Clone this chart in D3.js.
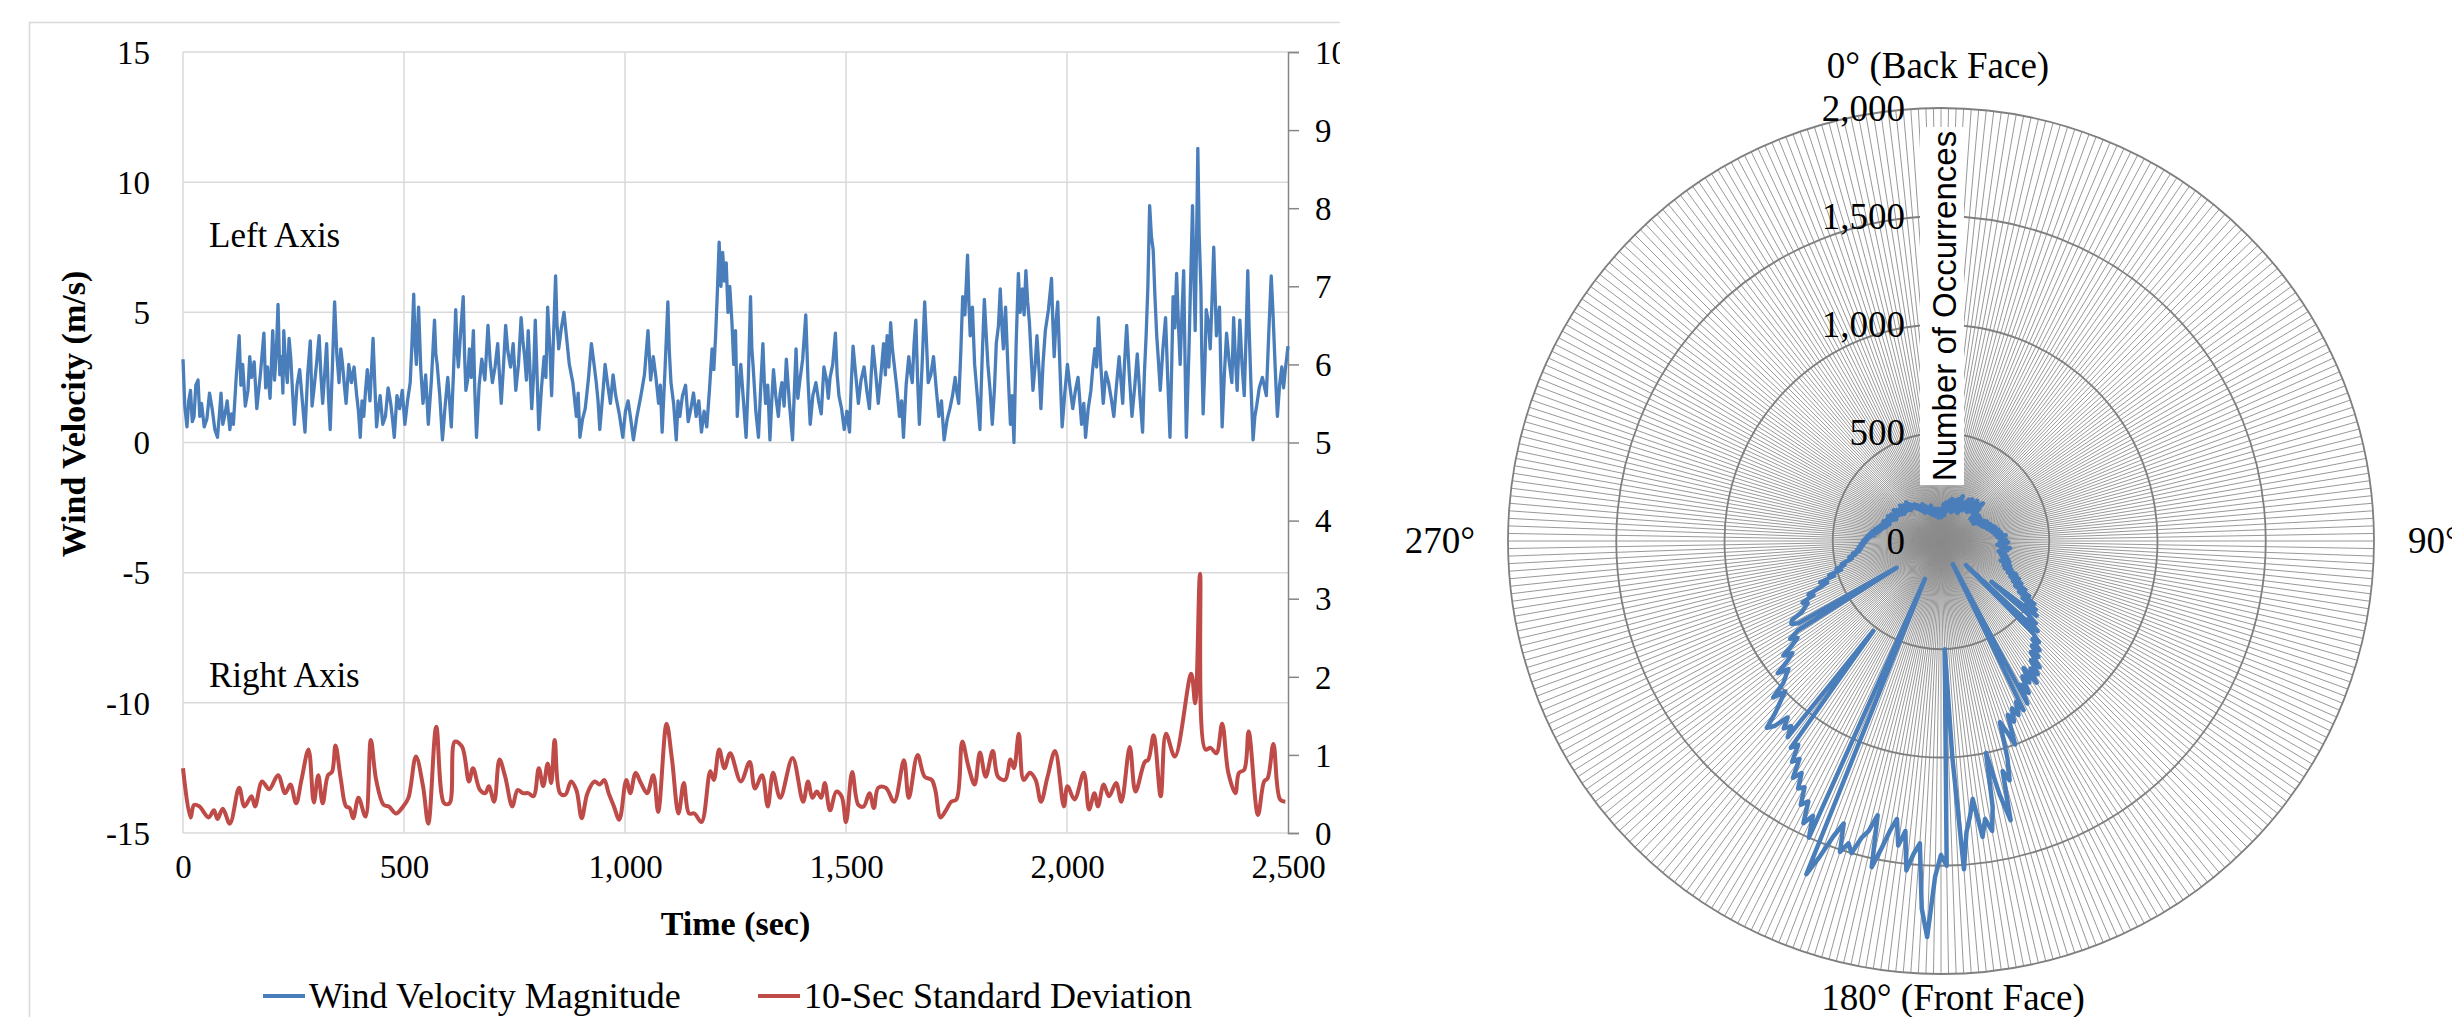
<!DOCTYPE html>
<html>
<head>
<meta charset="utf-8">
<script src="https://cdn.jsdelivr.net/npm/d3@7"></script>
<style>
  body { margin: 0; background: #fff; }
  text { font-family: "Liberation Serif", "Times New Roman", serif; fill: #000; }
</style>
</head>
<body>
<svg id="chart"></svg>
<script>
// ---- data ----
const timeTicks = [0, 500, 1000, 1500, 2000, 2500];
const leftTicks = [-15, -10, -5, 0, 5, 10, 15];
const rightTicks = [0, 1, 2, 3, 4, 5, 6, 7, 8, 9, 10];
const ringTicks = [0, 500, 1000, 1500, 2000];

// wind velocity magnitude [time (s), m/s]
const windVelocity = [
  [0,3.2],[4,1.4],[9,0.6],[13,1.6],[17,2.0],[21,0.8],[25,1.0],[29,2.2],[34,2.4],[38,1.0],
  [42,1.5],[48,0.6],[54,0.9],[60,1.9],[66,1.3],[72,0.5],[78,0.2],[82,1.0],[86,1.9],[90,0.7],
  [94,1.0],[100,1.6],[106,0.5],[110,1.1],[114,0.7],[120,2.4],[127,4.1],[131,2.2],[135,3.0],[141,1.4],
  [147,2.0],[151,3.3],[155,2.5],[161,3.1],[167,1.3],[175,2.6],[183,4.2],[187,2.1],[191,2.9],[197,1.7],
  [203,4.3],[207,2.4],[211,3.4],[215,5.3],[219,2.6],[223,3.3],[226,1.9],[228,4.3],[232,3.0],[236,2.3],
  [240,4.0],[244,3.2],[248,1.9],[252,0.7],[258,2.2],[264,2.8],[270,1.6],[276,0.4],[282,2.6],[288,3.9],
  [292,1.4],[296,2.0],[302,3.0],[308,4.1],[312,2.6],[316,1.5],[320,2.5],[325,3.8],[329,1.8],[333,0.5],
  [338,2.9],[343,5.4],[348,3.4],[353,2.3],[357,3.6],[361,3.0],[365,2.2],[369,1.5],[375,3.0],[381,2.3],
  [387,2.9],[393,1.8],[397,1.2],[401,0.2],[405,1.6],[409,1.0],[413,2.0],[417,2.8],[423,1.6],[430,4.0],
  [434,2.2],[438,0.6],[442,1.3],[446,1.8],[452,0.7],[458,1.0],[464,2.1],[470,1.5],[474,0.9],[478,0.2],
  [484,1.8],[490,1.3],[496,2.0],[502,0.7],[508,1.6],[514,2.3],[518,3.8],[522,5.7],[525,3.8],[528,3.0],
  [531,4.4],[533,5.2],[538,2.8],[543,1.5],[549,2.6],[555,0.7],[562,2.4],[569,4.7],[572,3.4],[575,3.0],
  [581,1.8],[587,0.1],[593,1.4],[599,2.5],[603,1.6],[607,0.6],[612,2.7],[617,5.1],[620,3.6],[623,2.9],
  [628,4.2],[634,5.6],[637,3.4],[640,2.0],[644,2.4],[648,3.6],[652,2.5],[657,4.3],[660,2.1],[664,0.2],
  [670,2.2],[676,3.2],[683,2.4],[690,4.5],[695,3.1],[700,2.3],[706,2.9],[712,3.8],[716,2.6],[720,1.5],
  [725,2.9],[730,4.5],[735,3.5],[741,2.9],[747,3.8],[753,2.0],[759,3.0],[765,4.8],[769,3.9],[773,3.3],
  [777,2.4],[781,4.3],[785,2.8],[789,1.3],[793,2.5],[797,4.7],[801,2.6],[805,0.5],[811,2.1],[817,3.3],
  [821,2.5],[825,5.2],[830,3.6],[834,1.8],[838,3.9],[843,6.4],[846,4.6],[850,3.6],[856,4.4],[862,5.0],
  [868,4.0],[874,3.0],[882,2.3],[890,1.0],[894,1.9],[898,0.2],[904,0.9],[910,1.3],[917,2.4],[924,3.8],
  [930,3.0],[935,2.3],[939,1.6],[943,0.5],[949,1.7],[955,3.0],[961,2.2],[967,1.5],[973,2.6],[979,1.8],
  [987,1.1],[995,0.2],[1001,1.2],[1007,1.6],[1013,0.9],[1019,0.1],[1027,1.0],[1036,1.8],[1044,2.6],[1052,4.3],
  [1058,2.4],[1064,3.3],[1070,2.5],[1076,1.5],[1080,2.2],[1084,0.4],[1090,2.6],[1097,5.4],[1100,3.6],[1104,2.3],
  [1110,1.5],[1116,0.1],[1120,1.6],[1124,1.0],[1130,1.8],[1137,2.2],[1143,0.8],[1149,1.3],[1155,1.9],[1161,1.0],
  [1167,1.6],[1173,0.4],[1179,1.2],[1185,0.6],[1191,2.0],[1197,3.6],[1201,2.8],[1205,4.1],[1209,5.8],[1213,7.7],
  [1217,6.0],[1221,7.3],[1225,6.2],[1229,6.9],[1233,5.0],[1237,6.0],[1242,4.6],[1246,3.0],[1250,4.3],[1254,1.0],
  [1258,2.2],[1262,3.0],[1268,1.6],[1274,0.2],[1279,2.4],[1284,5.6],[1287,3.6],[1290,2.9],[1296,1.2],[1302,0.2],
  [1307,2.1],[1312,3.8],[1315,2.4],[1318,1.5],[1323,2.2],[1328,0.1],[1332,1.6],[1336,2.8],[1341,1.8],[1347,1.0],
  [1351,1.9],[1355,2.3],[1360,1.4],[1365,3.2],[1372,1.5],[1379,0.1],[1383,1.9],[1387,3.6],[1391,1.7],[1395,2.3],
  [1402,3.2],[1409,4.9],[1414,2.4],[1419,0.7],[1425,1.8],[1432,2.3],[1438,1.6],[1444,1.1],[1450,2.9],[1456,2.4],
  [1460,1.7],[1464,2.5],[1470,3.0],[1476,4.2],[1480,2.6],[1484,1.8],[1490,1.3],[1496,0.5],[1502,1.2],[1508,0.4],
  [1512,2.3],[1516,3.7],[1522,2.6],[1528,1.5],[1534,2.4],[1541,2.9],[1547,2.0],[1553,1.3],[1557,2.6],[1561,3.7],
  [1567,2.7],[1573,1.5],[1579,2.6],[1585,3.8],[1589,2.6],[1593,4.1],[1597,2.9],[1601,4.6],[1605,3.6],[1609,3.0],
  [1615,2.1],[1621,1.0],[1626,1.6],[1630,0.2],[1636,2.2],[1642,3.3],[1646,2.7],[1650,2.3],[1654,3.8],[1658,4.7],
  [1662,2.4],[1666,0.7],[1672,2.9],[1678,5.4],[1682,3.9],[1686,2.3],[1692,2.6],[1698,3.3],[1704,2.1],[1710,1.0],
  [1716,1.6],[1722,0.1],[1729,0.9],[1735,1.3],[1741,1.8],[1747,2.5],[1751,1.9],[1755,1.5],[1760,3.6],[1764,5.6],
  [1769,4.9],[1775,7.2],[1778,5.4],[1781,4.1],[1786,5.2],[1791,3.0],[1797,1.8],[1803,0.5],[1808,3.2],[1813,5.5],
  [1817,4.2],[1821,3.0],[1826,2.0],[1831,0.7],[1836,2.1],[1840,3.8],[1845,4.5],[1849,5.9],[1853,4.4],[1856,3.6],
  [1859,4.6],[1861,5.2],[1867,2.6],[1872,0.7],[1876,1.8],[1880,0.0],[1885,3.8],[1890,6.5],[1894,5.0],[1899,5.9],
  [1903,4.9],[1907,6.6],[1911,5.4],[1915,4.6],[1919,3.3],[1923,2.0],[1928,3.0],[1932,4.1],[1937,2.7],[1941,1.3],
  [1946,3.1],[1951,4.3],[1958,5.1],[1965,6.3],[1968,4.6],[1971,3.3],[1975,4.6],[1979,5.4],[1984,2.9],[1989,0.6],
  [1995,1.9],[2001,3.0],[2007,2.1],[2013,1.3],[2019,2.0],[2025,2.5],[2029,1.6],[2033,0.7],[2038,1.5],[2042,0.2],
  [2048,1.3],[2054,2.0],[2058,2.8],[2063,3.6],[2067,2.9],[2071,4.8],[2076,3.1],[2082,1.5],[2088,2.7],[2094,2.3],
  [2100,1.7],[2106,1.0],[2112,2.2],[2118,3.3],[2122,2.4],[2126,1.5],[2130,3.0],[2135,4.5],[2141,2.6],[2147,1.0],
  [2153,2.1],[2159,3.4],[2165,1.8],[2171,0.4],[2175,2.6],[2179,4.1],[2183,6.0],[2187,9.1],[2191,7.9],[2195,7.4],
  [2199,5.6],[2203,4.1],[2207,3.1],[2211,2.0],[2217,3.6],[2223,4.8],[2228,2.4],[2233,0.2],[2237,3.0],[2240,5.6],
  [2244,4.4],[2248,6.5],[2252,4.6],[2256,3.0],[2260,4.9],[2264,6.6],[2267,3.2],[2270,0.2],[2273,1.9],[2276,3.6],
  [2280,6.4],[2284,9.1],[2287,6.5],[2290,4.3],[2293,7.6],[2296,11.3],[2299,8.0],[2303,5.9],[2305,3.4],[2308,1.1],
  [2312,3.0],[2315,5.1],[2320,4.6],[2324,3.6],[2328,5.4],[2332,7.5],[2335,5.8],[2338,4.1],[2341,4.7],[2345,5.2],
  [2348,2.8],[2351,0.6],[2356,2.6],[2361,4.2],[2367,3.1],[2373,2.3],[2377,4.8],[2381,3.2],[2385,2.0],[2388,3.4],
  [2391,4.7],[2396,3.0],[2401,1.8],[2405,4.0],[2409,6.6],[2412,4.4],[2416,2.3],[2421,0.1],[2425,1.0],[2429,1.4],
  [2435,2.1],[2442,2.5],[2446,2.2],[2451,1.8],[2456,4.0],[2462,6.4],[2466,5.0],[2470,3.3],[2473,2.1],[2476,1.0],
  [2481,2.2],[2486,2.9],[2490,2.1],[2494,2.8],[2500,3.7]
];

// 10-sec standard deviation [time (s), m/s] on the right axis
const stdDeviation = [
  [0,0.83],[17,0.2],[25,0.36],[37,0.34],[58,0.2],[70,0.29],[78,0.18],[90,0.31],[106,0.12],[127,0.58],
  [139,0.34],[155,0.47],[163,0.34],[179,0.66],[195,0.56],[215,0.74],[231,0.51],[243,0.62],[256,0.38],[268,0.68],
  [284,1.07],[296,0.39],[306,0.74],[316,0.38],[328,0.74],[337,0.78],[345,1.12],[357,0.69],[369,0.34],[377,0.32],
  [385,0.19],[397,0.45],[413,0.21],[425,1.19],[437,0.68],[454,0.36],[466,0.34],[482,0.25],[498,0.34],[510,0.45],
  [527,0.98],[543,0.6],[555,0.12],[573,1.36],[591,0.38],[603,0.38],[615,1.17],[631,1.11],[647,0.66],[656,0.83],
  [672,0.55],[684,0.51],[692,0.6],[704,0.4],[716,0.94],[729,0.72],[745,0.34],[757,0.55],[769,0.51],[781,0.51],
  [793,0.47],[805,0.83],[815,0.6],[825,0.89],[833,0.64],[841,1.19],[853,0.51],[865,0.49],[878,0.66],[890,0.55],
  [902,0.19],[915,0.51],[931,0.66],[943,0.62],[953,0.68],[963,0.51],[975,0.34],[987,0.17],[1003,0.68],[1012,0.51],
  [1024,0.77],[1036,0.64],[1050,0.51],[1064,0.74],[1075,0.27],[1094,1.40],[1106,0.96],[1121,0.25],[1133,0.64],[1145,0.25],
  [1157,0.25],[1173,0.14],[1193,0.79],[1201,0.68],[1213,1.07],[1225,0.83],[1238,1.02],[1262,0.66],[1282,0.91],[1294,0.57],
  [1310,0.74],[1323,0.34],[1335,0.77],[1351,0.45],[1379,0.96],[1403,0.4],[1414,0.66],[1424,0.45],[1434,0.53],[1444,0.45],
  [1452,0.64],[1464,0.29],[1478,0.53],[1490,0.47],[1500,0.14],[1514,0.78],[1528,0.36],[1540,0.34],[1553,0.51],[1563,0.32],
  [1573,0.58],[1590,0.58],[1609,0.4],[1631,0.93],[1642,0.45],[1662,1.0],[1678,0.72],[1694,0.68],[1702,0.55],[1714,0.2],
  [1726,0.29],[1738,0.4],[1750,0.43],[1763,1.17],[1777,0.85],[1791,0.62],[1803,1.03],[1816,0.72],[1832,1.05],[1844,0.72],
  [1860,0.68],[1872,0.94],[1880,0.83],[1891,1.27],[1902,0.68],[1916,0.77],[1929,0.68],[1941,0.4],[1956,0.72],[1973,1.05],
  [1993,0.34],[2001,0.6],[2017,0.43],[2038,0.77],[2050,0.3],[2062,0.51],[2070,0.34],[2083,0.62],[2095,0.47],[2111,0.64],
  [2123,0.4],[2142,1.10],[2155,0.53],[2176,0.91],[2184,0.94],[2196,1.25],[2212,0.47],[2224,1.27],[2244,0.98],[2281,2.04],
  [2290,1.66],[2301,3.32],[2313,1.07],[2325,1.09],[2338,1.02],[2351,1.4],[2365,0.77],[2381,0.51],[2389,0.77],[2401,0.81],
  [2411,1.3],[2432,0.23],[2446,0.66],[2454,0.7],[2467,1.14],[2482,0.43],[2494,0.4]
];

// number of occurrences per degree of wind direction (0..359)
const occurrences = [
  130,110,150,120,170,140,160,120,180,150, 140,170,190,150,180,200,160,190,170,140,
  200,180,150,210,170,190,230,160,200,180, 150,190,210,170,230,200,180,240,210,190,
  220,180,250,210,190,240,200,230,260,210, 230,190,210,170,200,180,210,170,200,190,
  210,180,170,200,190,220,190,230,200,220, 200,240,210,230,250,220,260,230,250,270,
  240,260,280,250,270,300,260,290,270,300, 280,310,270,300,260,290,320,280,310,290,
  270,300,280,310,290,320,300,330,290,320, 340,310,350,320,380,340,400,360,420,380,
  450,400,480,430,520,460,540,490,560,300, 520,580,540,610,160,600,650,620,680,640,
  700,660,740,690,760,720,790,700,770,730, 810,760,850,120,870,820,880,840,900,860,
  1000,930,880,1050,1150,1100,1330,1200,1000,1250, 1360,1300,1380,1200,1280,1350,1520,1000,500,1500,
  1450,1550,1830,1700,1400,1450,1530,1350,1420,1300, 1360,1450,1540,1300,1380,1420,1500,1460,1510,1380,
  1450,1560,1660,190,1500,1400,1450,1350,1380,1300, 1320,1250,1290,1200,1230,1150,1180,520,1150,1100,
  1130,1080,1150,1180,1100,1050,1000,1060,980,950, 920,970,900,860,900,840,800,830,780,240,
  760,790,780,720,700,680,700,640,660,600, 560,590,520,540,480,500,460,470,440,420,
  430,400,410,380,390,370,380,360,370,350, 360,340,350,330,340,310,330,300,320,290,
  310,280,300,270,290,260,280,270,250,280, 260,270,250,260,240,270,230,250,260,240,
  250,230,240,260,220,250,230,210,240,220, 230,250,210,240,220,230,200,220,240,210,
  220,200,210,190,210,180,200,170,190,160, 180,150,170,190,160,180,150,170,140,160,
  150,130,160,140,170,130,150,120,140,130, 150,120,140,110,130,150,120,140,110,130
];
const directions = d3.range(occurrences.length);

// ---- layout ----
const W = 2452, H = 1017;
const serif = "'Liberation Serif', 'Times New Roman', serif";
const svg = d3.select("#chart").attr("width", W).attr("height", H);
svg.append("rect").attr("width", W).attr("height", H).attr("fill", "#fff");

const blue = "#4a7ebb", red = "#be4b48";

// ================= left chart =================
svg.append("clipPath").attr("id", "leftClip")
  .append("rect").attr("x", 0).attr("y", 0).attr("width", 1340).attr("height", H);
const left = svg.append("g").attr("clip-path", "url(#leftClip)");

left.append("rect")
  .attr("x", 29.5).attr("y", 22.5).attr("width", 1400).attr("height", 1100)
  .attr("fill", "none").attr("stroke", "#d9d9d9").attr("stroke-width", 1.5);

const x = d3.scaleLinear().domain([0, 2500]).range([183, 1288]);
const yL = d3.scaleLinear().domain([-15, 15]).range([833, 52]);
const yR = d3.scaleLinear().domain([0, 10]).range([833, 52]);

// gridlines
left.append("g").selectAll("line").data(leftTicks).join("line")
  .attr("x1", x(0)).attr("x2", x(2500))
  .attr("y1", d => yL(d)).attr("y2", d => yL(d))
  .attr("stroke", "#d9d9d9").attr("stroke-width", 1.5);
left.append("g").selectAll("line").data(timeTicks.slice(0, -1)).join("line")
  .attr("x1", d => x(d)).attr("x2", d => x(d))
  .attr("y1", yL(15)).attr("y2", yL(-15))
  .attr("stroke", "#d9d9d9").attr("stroke-width", 1.5);

// left axis labels
const axL = left.append("g").attr("transform", `translate(${x(0)},0)`)
  .call(d3.axisLeft(yL).tickValues(leftTicks).tickSize(0).tickPadding(33));
axL.select(".domain").remove();
axL.selectAll("text").attr("font-size", 33).attr("dy", "0.34em").style("font-family", serif)
  .text(d => d < 0 ? "-" + Math.abs(d) : d);

// right axis
const axR = left.append("g").attr("transform", `translate(${x(2500)},0)`)
  .call(d3.axisRight(yR).tickValues(rightTicks).tickSize(11).tickPadding(16));
axR.select(".domain").attr("stroke", "#868686").attr("stroke-width", 1.5);
axR.selectAll(".tick line").attr("stroke", "#868686").attr("stroke-width", 1.5);
axR.selectAll("text").attr("font-size", 33).attr("dy", "0.34em").style("font-family", serif);

// bottom axis labels
const axB = left.append("g").attr("transform", `translate(0,${yL(-15)})`)
  .call(d3.axisBottom(x).tickValues(timeTicks).tickSize(0).tickPadding(22).tickFormat(d3.format(",")));
axB.select(".domain").remove();
axB.selectAll("text").attr("font-size", 33).attr("dy", "0.71em").style("font-family", serif);

// series
left.append("path").datum(windVelocity)
  .attr("fill", "none").attr("stroke", blue).attr("stroke-width", 3.3)
  .attr("stroke-linejoin", "round")
  .attr("d", d3.line().x(d => x(d[0])).y(d => yL(d[1])));

left.append("path").datum(stdDeviation)
  .attr("fill", "none").attr("stroke", red).attr("stroke-width", 4)
  .attr("stroke-linejoin", "round")
  .attr("d", d3.line().x(d => x(d[0])).y(d => yR(d[1])).curve(d3.curveCatmullRom.alpha(0.5)));

// annotations and titles
left.append("text").attr("x", 209).attr("y", 247).attr("font-size", 35).text("Left Axis");
left.append("text").attr("x", 209).attr("y", 687).attr("font-size", 35).text("Right Axis");

left.append("text")
  .attr("transform", "translate(85,414) rotate(-90)")
  .attr("text-anchor", "middle").attr("font-size", 34).attr("font-weight", "bold")
  .text("Wind Velocity (m/s)");
left.append("text")
  .attr("x", (x(0) + x(2500)) / 2).attr("y", 935)
  .attr("text-anchor", "middle").attr("font-size", 34).attr("font-weight", "bold")
  .text("Time (sec)");

// legend
const legend = [
  { label: "Wind Velocity Magnitude", color: blue, x: 263 },
  { label: "10-Sec Standard Deviation", color: red, x: 758 }
];
const lg = left.append("g").selectAll("g").data(legend).join("g")
  .attr("transform", d => `translate(${d.x},996)`);
lg.append("line").attr("x1", 0).attr("x2", 42).attr("stroke", d => d.color).attr("stroke-width", 4);
lg.append("text").attr("x", 46).attr("y", 12).attr("font-size", 36).text(d => d.label);

// ================= polar chart =================
const cx = 1941, cy = 541, R = 433;
const r = d3.scaleLinear().domain([0, 2000]).range([0, R]);
const polar = svg.append("g").attr("transform", `translate(${cx},${cy})`);

// spokes, one per degree
polar.append("g").selectAll("line").data(directions).join("line")
  .attr("x1", 0).attr("y1", 0)
  .attr("x2", d => R * Math.sin(d * Math.PI / 180))
  .attr("y2", d => -R * Math.cos(d * Math.PI / 180))
  .attr("stroke", "#8c8c8c").attr("stroke-width", 0.9);

// rings
polar.append("g").selectAll("circle").data(ringTicks.slice(1)).join("circle")
  .attr("r", d => r(d)).attr("fill", "none")
  .attr("stroke", "#7f7f7f").attr("stroke-width", 1.8);

// data line
polar.append("path").datum(directions.map(i => [i, occurrences[i]]))
  .attr("fill", "none").attr("stroke", blue).attr("stroke-width", 4.5)
  .attr("stroke-linejoin", "round")
  .attr("d", d3.lineRadial()
    .angle(d => d[0] * Math.PI / 180)
    .radius(d => r(d[1]))
    .curve(d3.curveLinearClosed));

// radial tick labels
polar.append("g").selectAll("text").data(ringTicks).join("text")
  .attr("x", -36).attr("y", d => -r(d)).attr("dy", "0.34em")
  .attr("text-anchor", "end").attr("font-size", 37).style("font-family", serif)
  .text(d => d3.format(",")(d));

// radial axis title in white box
polar.append("rect").attr("x", -21).attr("y", -414).attr("width", 44).attr("height", 358).attr("fill", "#fff");
polar.append("text")
  .attr("transform", "translate(15,-235) rotate(-90)")
  .attr("text-anchor", "middle")
  .style("font-family", "'Liberation Sans', Arial, sans-serif")
  .attr("font-size", 33)
  .text("Number of Occurrences");

// direction labels
const dirLabels = [
  { text: "0° (Back Face)", x: -3, y: -463, anchor: "middle" },
  { text: "90°", x: 467, y: 12, anchor: "start" },
  { text: "180° (Front Face)", x: 12, y: 469, anchor: "middle" },
  { text: "270°", x: -501, y: 12, anchor: "middle" }
];
polar.append("g").selectAll("text").data(dirLabels).join("text")
  .attr("x", d => d.x).attr("y", d => d.y)
  .attr("text-anchor", d => d.anchor).attr("font-size", 37).style("font-family", serif)
  .text(d => d.text);
</script>
</body>
</html>
